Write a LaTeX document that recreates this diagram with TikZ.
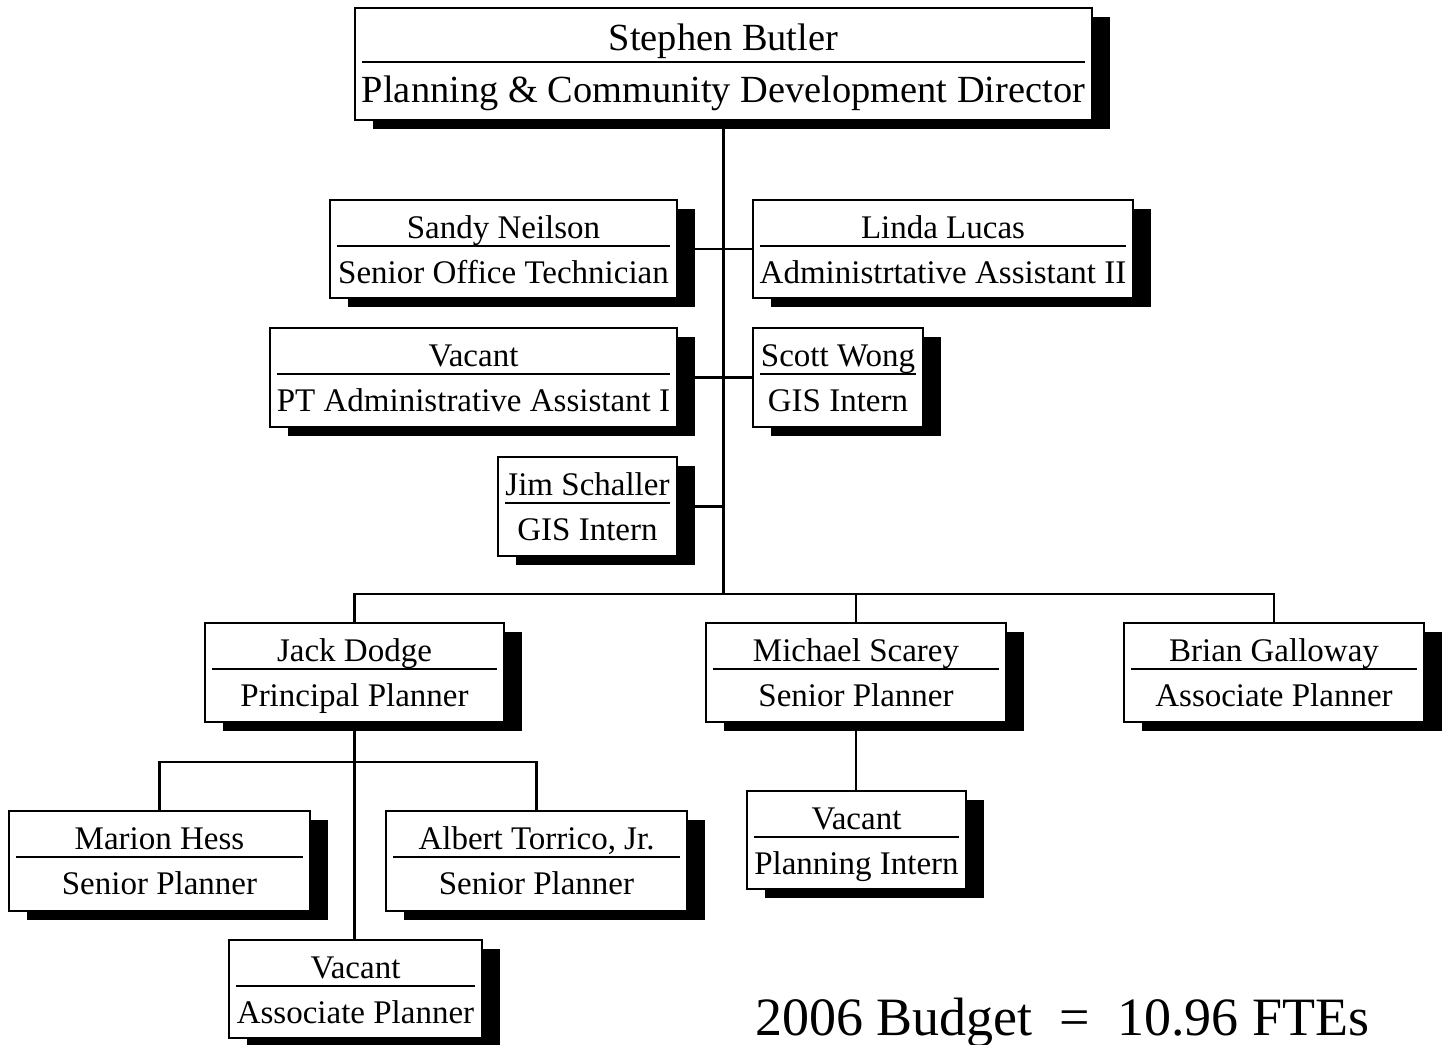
\documentclass[tikz,border=0pt]{standalone}
\usepackage{fontspec}
\setmainfont{Liberation Serif}
\usetikzlibrary{shadows}

\tikzset{
  orgbox/.style={draw, line width=2pt, fill=white, inner sep=0pt,
    general shadow={fill=black, shadow xshift=18pt, shadow yshift=-9pt}},
  txt/.style={inner sep=0pt, font=\fontsize{33}{39}\selectfont},
  bigtxt/.style={inner sep=0pt, font=\fontsize{38.4}{46}\selectfont},
  divider/.style={line width=1.2pt},
  link/.style={line width=2.2pt},
}

% #1 name, #2 left, #3 top, #4 right, #5 bottom, #6 first line, #7 second line
\newcommand{\orgunit}[7]{%
  \node[orgbox, minimum width={(#4-#2)*1pt}, minimum height={(#5-#3)*1pt}]
    (#1) at ({(#2+#4)/2},{(#3+#5)/2}) {};
  \node[txt, anchor=base] (#1-name) at ({(#2+#4)/2},{#3+38}) {#6};
  \draw[divider] ({#2+7},{#3+46}) -- ({#4-7},{#3+46});
  \node[txt, anchor=base] (#1-title) at ({(#2+#4)/2},{#3+83}) {#7};
}

\begin{document}
\begin{tikzpicture}[x=1pt, y=-1pt]
  \useasboundingbox (0,0) rectangle (1442,1044);

  % director
  \node[orgbox, minimum width=737pt, minimum height=112pt] (dir) at (723.5,64) {};
  \node[bigtxt, anchor=base] (dir-name) at (723.5,50) {Stephen Butler};
  \draw[divider] (362,62) -- (1085,62);
  \node[bigtxt, anchor=base] (dir-title) at (723.5,102) {Planning \& Community Development Director};

  % staff reporting to the director
  \orgunit{sandy}{330}{200}{677}{298}{Sandy Neilson}{Senior Office Technician}
  \orgunit{linda}{753}{200}{1133}{298}{Linda Lucas}{Administrtative Assistant II}
  \orgunit{ptadmin}{270}{328}{677}{427}{Vacant}{PT Administrative Assistant I}
  \orgunit{scott}{753}{328}{923}{427}{Scott Wong}{GIS Intern}
  \orgunit{jim}{498}{457}{677}{556}{Jim Schaller}{GIS Intern}

  % planners
  \orgunit{jack}{205}{623}{504}{722}{Jack Dodge}{Principal Planner}
  \orgunit{michael}{706}{623}{1006}{722}{Michael Scarey}{Senior Planner}
  \orgunit{brian}{1124}{623}{1424}{722}{Brian Galloway}{Associate Planner}

  \orgunit{marion}{9}{811}{310}{911}{Marion Hess}{Senior Planner}
  \orgunit{albert}{386}{811}{687}{911}{Albert Torrico, Jr.}{Senior Planner}
  \orgunit{vacap}{229}{940}{482}{1038}{Vacant}{Associate Planner}
  \orgunit{intern}{747}{791}{966}{889}{Vacant}{Planning Intern}

  % connectors
  \coordinate (bus) at (dir.south |- 0,594);
  \coordinate (jbus) at (jack.south |- 0,762);
  \draw[link] (dir.south) -- (bus);
  \draw[link] (sandy.east) -- (linda.west);
  \draw[link] (ptadmin.east) -- (scott.west);
  \draw[link] (jim.east) -- (jim.east -| dir.south);
  \draw[link] (jack.north) |- (bus) -| (brian.north);
  \draw[link] (michael.north) -- (michael.north |- bus);
  \draw[link] (michael.south) -- (michael.south |- intern.north);
  \draw[link] (jack.south) -- (jack.south |- vacap.north);
  \draw[link] (marion.north) |- (jbus) -| (albert.north);

  \node[inner sep=0pt, anchor=base west, font=\fontsize{54}{60}\selectfont]
    (budget) at (755,1035) {2006 Budget\ \ =\ \ 10.96 FTEs};
\end{tikzpicture}
\end{document}
